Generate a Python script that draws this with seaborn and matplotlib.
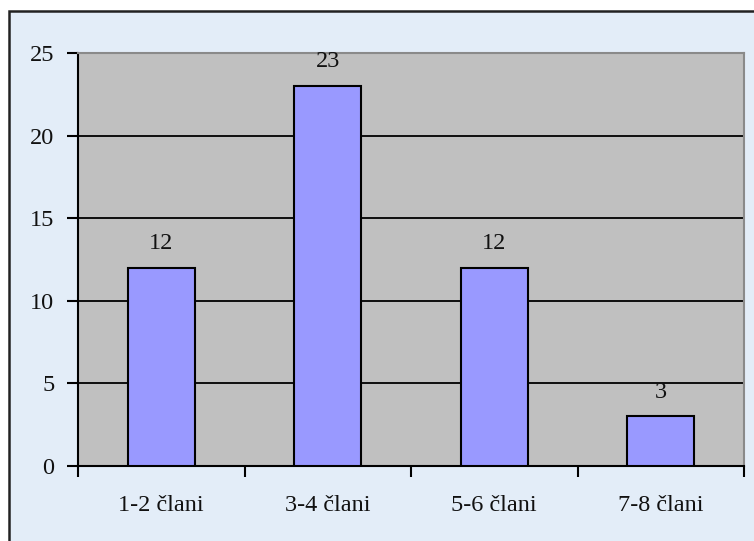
import matplotlib
matplotlib.use('Agg')
import matplotlib.pyplot as plt
import seaborn as sns
import pandas as pd
from matplotlib.patches import Rectangle
from matplotlib.ticker import FixedLocator

# Data
categories = ['1-2 člani', '3-4 člani', '5-6 člani', '7-8 člani']
counts = [12, 23, 12, 3]

df = pd.DataFrame({'kategorija': categories, 'broj': counts})

sns.set_style('white')
plt.rcParams['font.family'] = ['Liberation Serif', 'DejaVu Serif']

fig = plt.figure(figsize=(7.54, 5.41), dpi=100, facecolor='white')

# light blue background panel with black frame (cut off on right and bottom)
fig.patches.append(Rectangle((9 / 754, -0.1), 1.2, 1 - 11 / 541 + 0.1,
                             transform=fig.transFigure, facecolor='#e3edf8',
                             edgecolor='#222222', linewidth=1.8, zorder=-5))

ax = fig.add_axes([78 / 754, 75 / 541, 666 / 754, 413 / 541])
ax.set_facecolor('#c0c0c0')

sns.barplot(data=df, x='kategorija', y='broj', color='#9999ff', width=0.4,
            edgecolor='black', linewidth=1.5, saturation=1, ax=ax, zorder=3)

for c in ax.containers:
    ax.bar_label(c, padding=10, fontsize=17.5, color='#111111')

ax.set_ylim(0, 25)
ax.set_xlim(-0.5, 3.5)
ax.set_yticks([0, 5, 10, 15, 20, 25])
ax.yaxis.grid(True, color='black', linewidth=1.3, zorder=1)
ax.set_axisbelow(True)
ax.set_xlabel('')
ax.set_ylabel('')

# ticks at category boundaries on x
ax.xaxis.set_minor_locator(FixedLocator([-0.5, 0.5, 1.5, 2.5, 3.5]))
ax.tick_params(axis='x', which='major', length=0, pad=21, labelsize=17.5, labelcolor='#111111')
ax.tick_params(axis='x', which='minor', length=8, width=1.5, color='black', bottom=True)
ax.tick_params(axis='y', length=8, width=1.5, color='black', left=True, pad=9,
               labelsize=17.5, labelcolor='#111111')

for side in ['left', 'bottom']:
    ax.spines[side].set_color('black')
    ax.spines[side].set_linewidth(1.5)
for side in ['top', 'right']:
    ax.spines[side].set_visible(True)
    ax.spines[side].set_color('#8a8a8a')
    ax.spines[side].set_linewidth(1.5)

fig.savefig('out.png', dpi=100, facecolor=fig.get_facecolor())
